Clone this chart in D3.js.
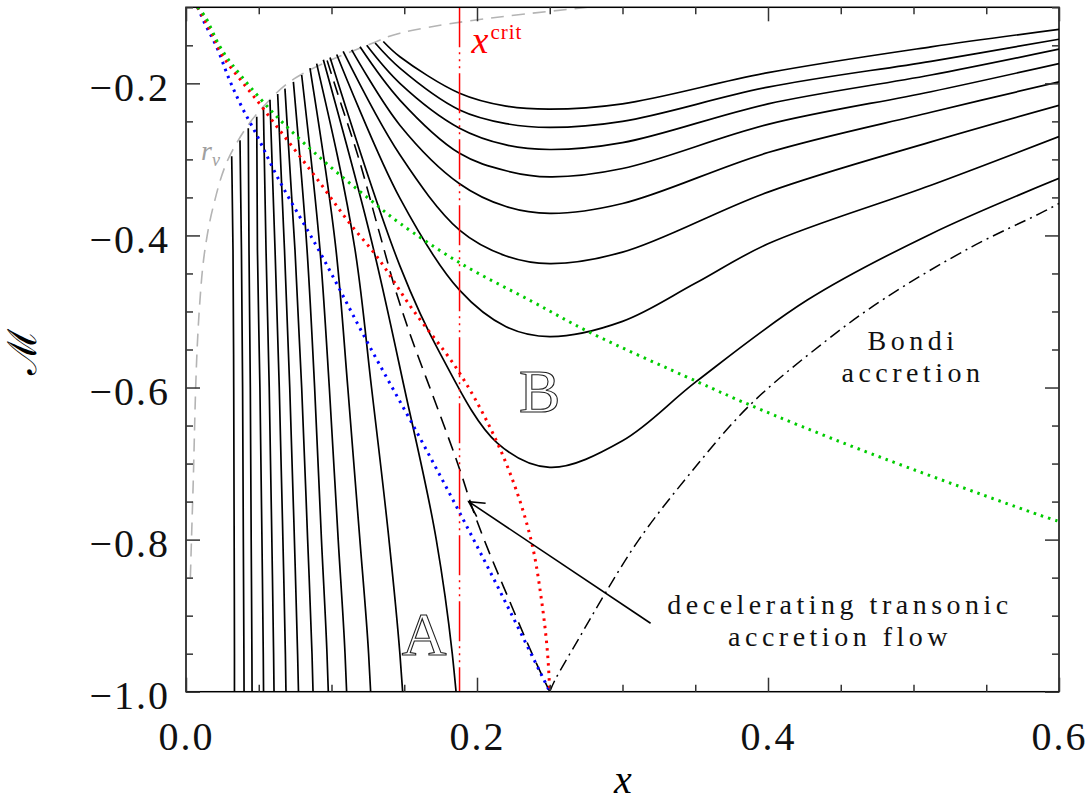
<!DOCTYPE html>
<html>
<head>
<meta charset="utf-8">
<script src="https://cdn.jsdelivr.net/npm/d3@7"></script>
<style>
  body { margin: 0; background: #fff; }
  text { font-family: "Liberation Serif", "DejaVu Serif", serif; }
</style>
</head>
<body>
<div id="chart"></div>
<script>
// Mach number vs x: accretion solution topology

var xMajor = [0, 0.2, 0.4, 0.6];
var yMajor = [-1.0, -0.8, -0.6, -0.4, -0.2];
var xCrit = 0.188;

// r_nu boundary (grey dashed), top to bottom
var rNu = [[0.276,-0.10],[0.194,-0.118],[0.147,-0.134],[0.1285,-0.147],[0.076,-0.192],[0.053,-0.231],
  [0.032,-0.288],[0.0186,-0.363],[0.013,-0.419],[0.0096,-0.485],[0.0046,-0.748],[0.003,-0.85]];

var blueDots = [[0.008,-0.10],[0.0119,-0.117],[0.021,-0.152],[0.030,-0.196],[0.0394,-0.235],[0.047,-0.262],
  [0.0625,-0.322],[0.09,-0.415],[0.1265,-0.547],[0.159,-0.66],[0.186,-0.757],[0.202,-0.816],[0.25,-1.0]];
var redDots = [[0.008,-0.10],[0.0165,-0.13],[0.0256,-0.165],[0.0394,-0.20],[0.0486,-0.222],[0.0577,-0.245],
  [0.0898,-0.325],[0.115,-0.390],[0.1276,-0.419],[0.156,-0.498],[0.186,-0.575],[0.214,-0.673],[0.227,-0.735],
  [0.2377,-0.805],[0.2443,-0.879],[0.2485,-0.95],[0.25,-1.0]];
var greenDots = [[0.008,-0.10],[0.013,-0.112],[0.0234,-0.152],[0.032,-0.176],[0.06,-0.239],[0.094,-0.301],
  [0.1265,-0.353],[0.147,-0.384],[0.189,-0.437],[0.238,-0.487],[0.277,-0.527],[0.351,-0.592],[0.3876,-0.623],
  [0.464,-0.682],[0.587,-0.768],[0.6,-0.776]];

// decelerating transonic flow (black dashed)
var transonic = [[0.097,-0.17],[0.105,-0.218],[0.117,-0.288],[0.133,-0.397],[0.145,-0.478],[0.154,-0.530],
  [0.165,-0.587],[0.1746,-0.636],[0.188,-0.707],[0.198,-0.765],[0.222,-0.879],
  [0.245,-0.98],[0.25,-1.0]];

// Bondi accretion (dash-dot)
var bondi = [[0.25,-1.0],[0.2535,-0.985],[0.27,-0.93],[0.288,-0.871],[0.3113,-0.80],[0.3456,-0.715],
  [0.3876,-0.623],[0.4376,-0.542],[0.48,-0.483],[0.54,-0.415],[0.587,-0.371],[0.6,-0.358]];

// region A solutions (start on r_nu, end at M = -1)
var curvesA = [
  [[0.0314,-0.296],[0.0323,-0.419],[0.0328,-0.6],[0.0331,-0.8],[0.0333,-0.95],[0.0333,-1.0]],
  [[0.0371,-0.275],[0.0381,-0.419],[0.0389,-0.6],[0.0394,-0.8],[0.0398,-0.95],[0.0399,-1.0]],
  [[0.0428,-0.259],[0.0433,-0.419],[0.0442,-0.6],[0.0448,-0.8],[0.0453,-0.95],[0.0454,-1.0]],
  [[0.0486,-0.244],[0.0491,-0.419],[0.0508,-0.6],[0.0522,-0.8],[0.0531,-0.95],[0.0533,-1.0]],
  [[0.0532,-0.231],[0.0550,-0.419],[0.0572,-0.6],[0.0590,-0.8],[0.0602,-0.95],[0.0605,-1.0]],
  [[0.0577,-0.222],[0.0612,-0.419],[0.0641,-0.6],[0.0666,-0.8],[0.0683,-0.95],[0.0687,-1.0]],
  [[0.0630,-0.214],[0.0677,-0.419],[0.0713,-0.6],[0.0745,-0.8],[0.0767,-0.95],[0.0773,-1.0]],
  [[0.0680,-0.207],[0.0749,-0.419],[0.0795,-0.6],[0.0836,-0.8],[0.0866,-0.95],[0.0873,-1.0]],
  [[0.0738,-0.198],[0.0832,-0.419],[0.0884,-0.6],[0.0931,-0.8],[0.0969,-0.95],[0.0978,-1.0]],
  [[0.0795,-0.189],[0.0921,-0.419],[0.0985,-0.6],[0.1046,-0.8],[0.1093,-0.95],[0.1104,-1.0]],
  [[0.0852,-0.180],[0.1031,-0.419],[0.1112,-0.6],[0.1195,-0.8],[0.1255,-0.95],[0.1269,-1.0]],
  [[0.0898,-0.174],[0.1162,-0.419],[0.1275,-0.6],[0.1395,-0.8],[0.1470,-0.95],[0.1489,-1.0]],
  [[0.0944,-0.169],[0.1290,-0.419],[0.1500,-0.6],[0.1720,-0.8],[0.1830,-0.95],[0.1856,-1.0]]
];

// region B solutions (pass through a minimum, go out to large x)
var curvesB = [
  [[0.1356,-0.145],[0.147,-0.165],[0.188,-0.213],[0.22,-0.230],[0.25,-0.234],[0.30,-0.227],[0.40,-0.186],[0.512,-0.152],[0.6,-0.129]],
  [[0.130,-0.147],[0.147,-0.180],[0.188,-0.235],[0.22,-0.253],[0.25,-0.258],[0.30,-0.250],[0.40,-0.205],[0.512,-0.171],[0.6,-0.142]],
  [[0.1242,-0.150],[0.147,-0.200],[0.188,-0.259],[0.22,-0.281],[0.25,-0.287],[0.30,-0.278],[0.40,-0.227],[0.512,-0.189],[0.6,-0.155]],
  [[0.1196,-0.152],[0.147,-0.222],[0.188,-0.292],[0.22,-0.315],[0.25,-0.323],[0.30,-0.312],[0.40,-0.254],[0.512,-0.211],[0.6,-0.174]],
  [[0.1139,-0.156],[0.147,-0.255],[0.188,-0.332],[0.22,-0.362],[0.25,-0.371],[0.30,-0.358],[0.40,-0.291],[0.512,-0.238],[0.6,-0.198]],
  [[0.108,-0.158],[0.147,-0.294],[0.188,-0.393],[0.22,-0.427],[0.25,-0.437],[0.30,-0.422],[0.40,-0.343],[0.512,-0.277],[0.6,-0.229]],
  [[0.1036,-0.162],[0.147,-0.351],[0.188,-0.472],[0.22,-0.520],[0.25,-0.533],[0.30,-0.513],[0.35,-0.463],[0.40,-0.411],[0.512,-0.334],[0.6,-0.27]],
  [[0.099,-0.166],[0.147,-0.44],[0.1746,-0.555],[0.214,-0.673],[0.25,-0.705],[0.30,-0.670],[0.3508,-0.592],[0.427,-0.485],[0.512,-0.398],[0.6,-0.325]]
];

var width = 1091, height = 801;
var svg = d3.select("#chart").append("svg")
  .attr("width", width)
  .attr("height", height);

var x = d3.scaleLinear().domain([0, 0.6]).range([186, 1059]);
var y = d3.scaleLinear().domain([-1.0, -0.1]).range([691.7, 7.3]);

svg.append("clipPath").attr("id", "plot")
  .append("rect")
  .attr("x", 186).attr("y", 7.3)
  .attr("width", 873).attr("height", 684.4);

var g = svg.append("g").attr("clip-path", "url(#plot)");

var smooth = d3.line().x(function(d) { return x(d[0]); }).y(function(d) { return y(d[1]); }).curve(d3.curveCatmullRom.alpha(0.5));
var lineY = d3.line().x(function(d) { return x(d[0]); }).y(function(d) { return y(d[1]); }).curve(d3.curveMonotoneY);

// grey r_nu
g.append("path").attr("d", lineY(rNu))
  .attr("fill", "none").attr("stroke", "#b4b4b4").attr("stroke-width", 1.6)
  .attr("stroke-dasharray", "13,8");

// solid families
g.selectAll(".curveA").data(curvesA).enter().append("path")
  .attr("d", function(d) { return lineY(d); })
  .attr("fill", "none").attr("stroke", "#000").attr("stroke-width", 1.7);

g.selectAll(".curveB").data(curvesB).enter().append("path")
  .attr("d", function(d) { return smooth(d); })
  .attr("fill", "none").attr("stroke", "#000").attr("stroke-width", 1.7);

g.append("path").attr("d", lineY(transonic))
  .attr("fill", "none").attr("stroke", "#000").attr("stroke-width", 1.6)
  .attr("stroke-dasharray", "14,8");

g.append("path").attr("d", smooth(bondi))
  .attr("fill", "none").attr("stroke", "#000").attr("stroke-width", 1.5)
  .attr("stroke-dasharray", "12,5,2,5");

// dotted lines
[[blueDots, "#0000ff", lineY], [redDots, "#ff0000", lineY], [greenDots, "#00cc00", smooth]].forEach(function(s) {
  g.append("path").attr("d", s[2](s[0]))
    .attr("fill", "none").attr("stroke", s[1]).attr("stroke-width", 3)
    .attr("stroke-dasharray", "2.5,5");
});

// x_crit
g.append("line")
  .attr("x1", x(xCrit)).attr("x2", x(xCrit))
  .attr("y1", y(-0.1)).attr("y2", y(-1.0))
  .attr("stroke", "#ff0000").attr("stroke-width", 1.5)
  .attr("stroke-dasharray", "40,5,2,5,2,5,2,5");

// frame
svg.append("rect")
  .attr("x", 186).attr("y", 7.3).attr("width", 873).attr("height", 684.4)
  .attr("fill", "none").attr("stroke", "#000").attr("stroke-width", 1.5);

// ticks on all sides (inward)
var xMinor = d3.range(0, 0.6001, 0.05).filter(function(v) { return Math.abs(v / 0.2 - Math.round(v / 0.2)) > 1e-6; });
var yMinor = d3.range(-1.0, -0.0999, 0.05).filter(function(v) { return Math.abs(v / 0.2 - Math.round(v / 0.2)) > 1e-6; });
var fmt = function(v) { return (v < 0 ? "\u2212" : "") + Math.abs(v).toFixed(1); };

function styleAxis(sel) {
  sel.select(".domain").remove();
  sel.selectAll("line").attr("stroke", "#333").attr("stroke-width", 1.5);
}

svg.append("g").attr("transform", "translate(0,691.7)")
  .call(d3.axisBottom(x).tickValues(xMajor).tickSize(-14).tickPadding(30).tickFormat(fmt))
  .call(styleAxis)
  .selectAll("text").attr("font-size", 40).attr("fill", "#111")
  .attr("font-family", "Liberation Serif").attr("letter-spacing", 2);
svg.append("g").attr("transform", "translate(0,691.7)")
  .call(d3.axisBottom(x).tickValues(xMinor).tickSize(-7).tickFormat(""))
  .call(styleAxis);
svg.append("g").attr("transform", "translate(0,7.3)")
  .call(d3.axisTop(x).tickValues(xMajor).tickSize(-14).tickFormat(""))
  .call(styleAxis);
svg.append("g").attr("transform", "translate(0,7.3)")
  .call(d3.axisTop(x).tickValues(xMinor).tickSize(-7).tickFormat(""))
  .call(styleAxis);

svg.append("g").attr("transform", "translate(186,0)")
  .call(d3.axisLeft(y).tickValues(yMajor).tickSize(-14).tickPadding(16).tickFormat(fmt))
  .call(styleAxis)
  .selectAll("text").attr("font-size", 40).attr("fill", "#111").attr("dy", "0.42em")
  .attr("font-family", "Liberation Serif").attr("letter-spacing", 2);
svg.append("g").attr("transform", "translate(186,0)")
  .call(d3.axisLeft(y).tickValues(yMinor).tickSize(-7).tickFormat(""))
  .call(styleAxis);
svg.append("g").attr("transform", "translate(1059,0)")
  .call(d3.axisRight(y).tickValues(yMajor).tickSize(-14).tickFormat(""))
  .call(styleAxis);
svg.append("g").attr("transform", "translate(1059,0)")
  .call(d3.axisRight(y).tickValues(yMinor).tickSize(-7).tickFormat(""))
  .call(styleAxis);

// axis titles
svg.append("text").attr("x", 623).attr("y", 793)
  .attr("text-anchor", "middle").attr("font-size", 40).attr("font-style", "italic")
  .text("x");
svg.append("text")
  .attr("transform", "translate(36,352) rotate(-90)")
  .attr("text-anchor", "middle").attr("font-size", 40)
  .attr("font-family", "DejaVu Serif, DejaVu Sans")
  .text("\u2133");

// annotations
var xc = svg.append("text").attr("x", x(xCrit) + 12).attr("y", 53).attr("fill", "#ff0000");
xc.append("tspan").attr("font-size", 38).attr("font-style", "italic").text("x");
xc.append("tspan").attr("font-size", 21).attr("dy", -14).attr("dx", 2).attr("letter-spacing", 1).text("crit");

var rn = svg.append("text").attr("x", 201).attr("y", 160).attr("fill", "#a0a0a0");
rn.append("tspan").attr("font-size", 28).attr("font-style", "italic").text("r");
rn.append("tspan").attr("font-size", 18).attr("font-style", "italic").attr("dy", 6).text("\u03bd");

svg.append("text").attr("x", x(0.1636)).attr("y", y(-0.952))
  .attr("text-anchor", "middle").attr("font-size", 62)
  .attr("fill", "none").attr("stroke", "#222").attr("stroke-width", 1.1)
  .text("A");
svg.append("text").attr("x", x(0.243)).attr("y", y(-0.632))
  .attr("text-anchor", "middle").attr("font-size", 62)
  .attr("fill", "none").attr("stroke", "#222").attr("stroke-width", 1.1)
  .text("B");

var bt = svg.append("text").attr("text-anchor", "middle").attr("font-size", 28)
  .attr("letter-spacing", 4.5).attr("fill", "#111");
bt.append("tspan").attr("x", x(0.4997)).attr("y", y(-0.551)).text("Bondi");
bt.append("tspan").attr("x", x(0.4997)).attr("y", y(-0.593)).text("accretion");

var dt = svg.append("text").attr("text-anchor", "middle").attr("font-size", 28)
  .attr("letter-spacing", 4.5).attr("fill", "#111");
dt.append("tspan").attr("x", x(0.4495)).attr("y", y(-0.898)).text("decelerating transonic");
dt.append("tspan").attr("x", x(0.4495)).attr("y", y(-0.940)).text("accretion flow");

svg.append("defs").append("marker")
  .attr("id", "open").attr("markerUnits", "userSpaceOnUse")
  .attr("markerWidth", 30).attr("markerHeight", 30)
  .attr("refX", 0).attr("refY", 0).attr("viewBox", "-20 -15 30 30")
  .attr("orient", "auto")
  .append("path").attr("d", "M-15,-8L0,0L-15,8")
  .attr("fill", "none").attr("stroke", "#000").attr("stroke-width", 1.6);

svg.append("line")
  .attr("x1", x(0.3193)).attr("y1", y(-0.91))
  .attr("x2", x(0.1943)).attr("y2", y(-0.75))
  .attr("stroke", "#000").attr("stroke-width", 1.6)
  .attr("marker-end", "url(#open)");
</script>
</body>
</html>
